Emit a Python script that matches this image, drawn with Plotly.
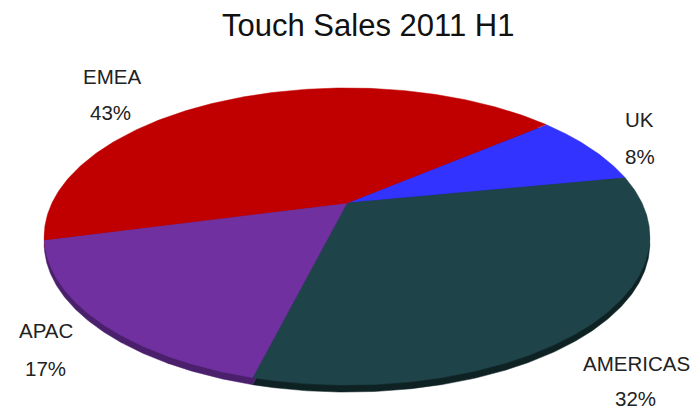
import numpy as np
import plotly.graph_objects as go

# ---- data ----
categories = ["UK", "AMERICAS", "APAC", "EMEA"]
values = [8, 32, 17, 43]
title_text = "Touch Sales 2011 H1"

# ---- styles ----
top_colors = ["#3333FF", "#1E4349", "#7030A0", "#C00000"]
side_colors = ["#1F1F99", "#0E2224", "#4A1F6B", "#7A0000"]
label_pos = {  # (name x, name y, pct x, pct y) in pixel space
    "UK": (639.5, 119, 639.5, 156),
    "AMERICAS": (636, 363, 635, 398),
    "APAC": (45.5, 330, 45.5, 368),
    "EMEA": (111.5, 76, 110, 112.5),
}
LABEL_FONT = 20.5
TITLE_FONT = 31
TITLE_POS = (367.5, 25.5)

W, H = 693, 409
CX, CY = 347, 203      # projected pie centre
A, B, K = 295, 141, 0.2256  # perspective projection parameters
START = 39.5           # degrees, first slice starts here, clockwise
DEPTH = 7              # visible thickness


def proj(theta_deg, depth=0.0):
    t = np.radians(theta_deg)
    x, y = np.cos(t), np.sin(t)
    w = 1 + K * y
    return CX + A * x / w, CY - B * y / w + depth


total = float(sum(values))
fracs = np.array(values) / total
cum = np.concatenate([[0], np.cumsum(fracs)])

fig = go.Figure()


def slice_poly(i, depth):
    t0 = START - cum[i] * 360
    t1 = START - cum[i + 1] * 360
    th = np.linspace(t0, t1, 200)
    X, Y = proj(th, depth)
    vx, vy = CX, CY + depth
    xs = np.concatenate([[vx], X, [vx]])
    ys = np.concatenate([[vy], Y, [vy]])
    return xs, ys


# side (thickness) first
for i in range(len(values)):
    xs, ys = slice_poly(i, DEPTH)
    fig.add_trace(go.Scatter(x=xs, y=ys, mode="lines", fill="toself",
                             fillcolor=side_colors[i],
                             line=dict(width=0.5, color=side_colors[i]),
                             hoverinfo="skip", showlegend=False))
# top faces
for i in range(len(values)):
    xs, ys = slice_poly(i, 0)
    fig.add_trace(go.Scatter(x=xs, y=ys, mode="lines", fill="toself",
                             fillcolor=top_colors[i],
                             line=dict(width=0.5, color=top_colors[i]),
                             name=categories[i],
                             text=f"{categories[i]}: {values[i]}%",
                             hoverinfo="text", hoveron="fills",
                             showlegend=False))

font_fam = "Liberation Sans, Arial"
annotations = []
for i, c in enumerate(categories):
    nx, ny, px, py = label_pos[c]
    pct = f"{round(fracs[i] * 100):.0f}%"
    annotations.append(dict(x=nx, y=ny, text=c, showarrow=False,
                            xref="x", yref="y", xanchor="center", yanchor="middle",
                            font=dict(size=LABEL_FONT, color="#222222", family=font_fam)))
    annotations.append(dict(x=px, y=py, text=pct, showarrow=False,
                            xref="x", yref="y", xanchor="center", yanchor="middle",
                            font=dict(size=LABEL_FONT, color="#222222", family=font_fam)))
annotations.append(dict(x=TITLE_POS[0], y=TITLE_POS[1], text=title_text, showarrow=False,
                        xref="x", yref="y", xanchor="center", yanchor="middle",
                        font=dict(size=TITLE_FONT, color="#111111", family=font_fam)))

fig.update_layout(
    width=W, height=H,
    margin=dict(l=0, r=0, t=0, b=0),
    paper_bgcolor="white", plot_bgcolor="white",
    xaxis=dict(range=[0, W], visible=False, fixedrange=True),
    yaxis=dict(range=[H, 0], visible=False, fixedrange=True),
    annotations=annotations,
    showlegend=False,
)

fig.write_html("out.html")
